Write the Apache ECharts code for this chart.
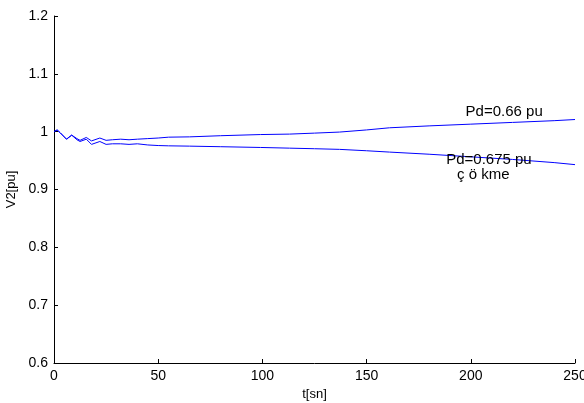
<!DOCTYPE html>
<html><head><meta charset="utf-8">
<script src="https://cdn.jsdelivr.net/npm/echarts@6/dist/echarts.min.js"></script>
<style>html,body{margin:0;padding:0;background:#fff}#c{width:584px;height:403px}</style>
</head><body><div id="c"></div>
<script>
const tValues = [0,1.5,3,6,8.5,11,12.5,15.5,18,22,25,28,32,36,40,45,50,55,65,80,99,113,125,137,150,161,180,200,220,240,250];
const upperV = [1.0,1.003,0.998,0.987,0.994,0.988,0.985,0.990,0.984,0.989,0.985,0.986,0.987,0.986,0.987,0.988,0.989,0.9905,0.991,0.993,0.995,0.9958,0.9975,0.9993,1.003,1.0067,1.010,1.013,1.016,1.019,1.021];
const lowerV = [1.0,1.003,0.998,0.987,0.994,0.986,0.983,0.987,0.978,0.983,0.978,0.979,0.979,0.978,0.979,0.977,0.976,0.9755,0.975,0.974,0.9727,0.9715,0.9705,0.9694,0.967,0.9647,0.961,0.9565,0.952,0.9465,0.943];
const xTicks = [0,50,100,150,200,250];
const yTicks = [0.6,0.7,0.8,0.9,1,1.1,1.2];
const labelsText = ["Pd=0.66 pu","Pd=0.675 pu","ç ö kme"];
const labelsPos = [[216,1.034],[208.7,0.951],[206,0.925]];

const font = "'Liberation Sans', Arial, sans-serif";
const chart = echarts.init(document.getElementById('c'), null, {renderer:'canvas'});
const pts = a => tValues.map((t,i)=>[t,a[i]]);
chart.setOption({
  animation:false,
  grid:{left:54,right:9,top:16,bottom:40,containLabel:false,outerBoundsMode:'none'},
  xAxis:{type:'value',min:0,max:250,interval:50,
    name:'t[sn]',nameLocation:'middle',nameGap:30,
    nameTextStyle:{fontFamily:font,fontSize:13,color:'#000',verticalAlign:'middle'},
    axisLine:{lineStyle:{color:'#000',width:1}},
    axisTick:{inside:true,length:4,lineStyle:{color:'#000'}},
    axisLabel:{fontFamily:font,fontSize:14,color:'#000',margin:6,showMaxLabel:true},
    splitLine:{show:false}},
  yAxis:{type:'value',min:0.6,max:1.2,interval:0.1,
    name:'V2[pu]',nameLocation:'middle',nameGap:36,nameRotate:90,
    nameTextStyle:{fontFamily:font,fontSize:13,color:'#000'},
    axisLine:{show:true,lineStyle:{color:'#000',width:1}},
    axisTick:{show:true,inside:true,length:4,lineStyle:{color:'#000'}},
    axisLabel:{fontFamily:font,fontSize:14,color:'#000',margin:6,
      formatter:v=>{const r=Math.round(v*10)/10;return r===1?'1':r.toFixed(1);}},
    splitLine:{show:false}},
  series:[
    {type:'line',data:pts(upperV),symbol:'none',lineStyle:{color:'#0000ff',width:1},
     markPoint:{symbol:'circle',symbolSize:0,
       label:{show:true,formatter:p=>p.name,fontFamily:font,fontSize:15,color:'#000',position:'inside'},
       data:labelsText.map((s,i)=>({name:s,coord:labelsPos[i]}))}},
    {type:'line',data:pts(lowerV),symbol:'none',lineStyle:{color:'#0000ff',width:1}}
  ]
});
</script></body></html>
